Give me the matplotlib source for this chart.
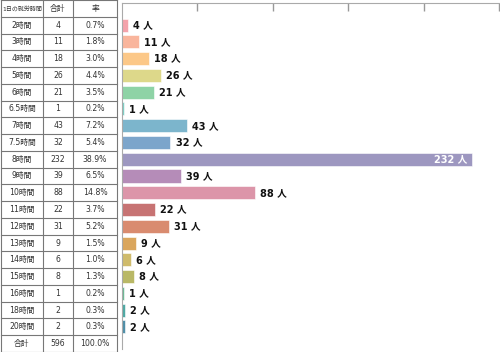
import numpy as np
import matplotlib.pyplot as plt

plt.rcParams['font.family'] = ['DejaVu Sans', 'Noto Sans CJK JP']

# data
hours = ["2時間", "3時間", "4時間", "5時間", "6時間", "6.5時間", "7時間", "7.5時間",
         "8時間", "9時間", "10時間", "11時間", "12時間", "13時間", "14時間", "15時間",
         "16時間", "18時間", "20時間"]
counts = [4, 11, 18, 26, 21, 1, 43, 32, 232, 39, 88, 22, 31, 9, 6, 8, 1, 2, 2]
rates = ["0.7%", "1.8%", "3.0%", "4.4%", "3.5%", "0.2%", "7.2%", "5.4%", "38.9%",
         "6.5%", "14.8%", "3.7%", "5.2%", "1.5%", "1.0%", "1.3%", "0.2%", "0.3%", "0.3%"]
headers = ["1日の就労時間", "合計", "率"]
total_row = ["合計", "596", "100.0%"]
colors = ["#F4A3AB", "#F9B59C", "#FCC888", "#DDD88A", "#8ED3A6", "#7FD0C6",
          "#7CB5CC", "#7CA5CB", "#9D97C0", "#B58CB8", "#DC95A9", "#C77373",
          "#D98B6F", "#DAA65D", "#CFBB6C", "#B9B866", "#6CB995", "#4FA9A4", "#4F8FA8"]

W, H = 500, 352
fig = plt.figure(figsize=(5, 3.52), dpi=100)
nrows = len(hours) + 2
rh = H / nrows  # row height in pixels

# ---- table on the left ----
tx = fig.add_axes([0, 0, 118 / W, 1])
tx.set_xlim(0, 118)
tx.set_ylim(nrows, 0)
tx.axis('off')
col_edges = [1, 43, 73, 117]
col_mid = [(col_edges[i] + col_edges[i + 1]) / 2 for i in range(3)]
for r in range(nrows + 1):
    tx.plot([col_edges[0], col_edges[-1]], [r, r], color="#777777", lw=0.8, clip_on=False)
for c in col_edges:
    tx.plot([c, c], [0, nrows], color="#777777", lw=0.8, clip_on=False)

rows = [headers] + [[h, str(n), p] for h, n, p in zip(hours, counts, rates)] + [total_row]
for r, row in enumerate(rows):
    for c, txt in enumerate(row):
        fs = 4.3 if (r == 0 and c == 0) else 5.6
        tx.text(col_mid[c], r + 0.5, txt, ha='center', va='center', fontsize=fs, color="#333333")

# ---- bar chart ----
top_px, bot_px = 3, 349
ax = fig.add_axes([122 / W, 1 - bot_px / H, 377 / W, (bot_px - top_px) / H])
y = np.arange(len(counts)) + 1.5
ax.barh(y, counts, height=0.78, color=colors, edgecolor='white', linewidth=0.4)
ax.set_xlim(0, 250)
ax.set_ylim(bot_px / rh, top_px / rh)

ax.spines['right'].set_visible(False)
ax.spines['bottom'].set_visible(False)
ax.spines['left'].set_color("#aaaaaa")
ax.spines['top'].set_color("#aaaaaa")
ax.xaxis.tick_top()
ax.set_xticks([50, 100, 150, 200, 250])
ax.tick_params(axis='x', direction='in', length=6, color="#999999", labeltop=False, width=1)
ax.set_yticks([])

for yi, n in zip(y, counts):
    if n > 200:
        ax.text(n - 3, yi, f"{n} 人", ha='right', va='center', fontsize=7,
                fontweight='bold', color='white')
    else:
        ax.text(n + 3.5, yi, f"{n} 人", ha='left', va='center', fontsize=7,
                fontweight='bold', color="#111111")

plt.savefig("out.png", dpi=100)
